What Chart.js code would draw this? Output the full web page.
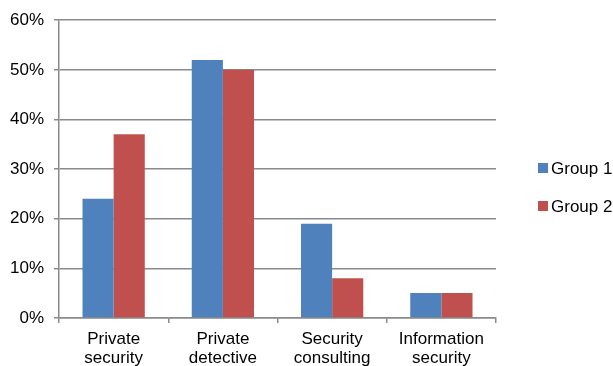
<!DOCTYPE html>
<html lang="en">
<head>
  <meta charset="UTF-8">
  <title>Security Sector Employment</title>
  <script src="https://cdn.jsdelivr.net/npm/chart.js"></script>
  <style>
    html, body {
      margin: 0;
      padding: 0;
      background: #fff;
      overflow: hidden;
    }
    #wrap {
      width: 613px;
      height: 366px;
      overflow: hidden;
    }
  </style>
</head>
<body>
  <div id="wrap">
    <canvas id="sectorChart" width="613" height="380"></canvas>
  </div>

  <script>
    const categories = [
      ['Private', 'security'],
      ['Private', 'detective'],
      ['Security', 'consulting'],
      ['Information', 'security']
    ];
    const seriesNames = ['Group 1', 'Group 2'];
    const group1 = [24, 52, 19, 5];
    const group2 = [37, 50, 8, 5];
    const yTicks = [0, 10, 20, 30, 40, 50, 60];

    const BLUE = '#4F81BD';
    const RED = '#C0504D';
    const AXIS = '#8a8a8a';
    const FONT = "'Liberation Sans', Arial, sans-serif";

    // legend drawn by hand on the right, two entries spaced apart
    const sideLegend = {
      id: 'sideLegend',
      afterDraw(chart) {
        const ctx = chart.ctx;
        ctx.save();
        ctx.font = '17px ' + FONT;
        ctx.textBaseline = 'middle';
        chart.data.datasets.forEach((ds, i) => {
          const y = 168 + i * 38;
          ctx.fillStyle = ds.backgroundColor;
          ctx.fillRect(538, y - 5, 10, 10);
          ctx.fillStyle = '#000';
          ctx.fillText(ds.label, 551, y + 1);
        });
        ctx.restore();
      }
    };

    const ctx = document.getElementById('sectorChart').getContext('2d');
    new Chart(ctx, {
      type: 'bar',
      data: {
        labels: categories,
        datasets: [
          { label: seriesNames[0], data: group1, backgroundColor: BLUE },
          { label: seriesNames[1], data: group2, backgroundColor: RED }
        ]
      },
      options: {
        responsive: false,
        animation: false,
        layout: {
          padding: { left: 0, right: 117, top: 12, bottom: 5 }
        },
        datasets: {
          bar: { categoryPercentage: 0.57, barPercentage: 1.0 }
        },
        plugins: {
          legend: { display: false },
          tooltip: { enabled: false }
        },
        scales: {
          y: {
            min: 0,
            max: 60,
            afterBuildTicks(axis) {
              axis.ticks = yTicks.map(v => ({ value: v }));
            },
            ticks: {
              color: '#000',
              padding: 10,
              font: { family: FONT, size: 17 },
              callback: v => v + '%'
            },
            grid: { color: AXIS, lineWidth: 1.5, tickLength: 5 },
            border: { color: AXIS, width: 1.5 }
          },
          x: {
            ticks: {
              color: '#000',
              padding: 7,
              maxRotation: 0,
              font: { family: FONT, size: 17, lineHeight: 1.12 }
            },
            grid: { drawOnChartArea: false, color: AXIS, lineWidth: 1.5, tickLength: 5 },
            border: { color: AXIS, width: 1.5 }
          }
        }
      },
      plugins: [sideLegend]
    });
  </script>
</body>
</html>
